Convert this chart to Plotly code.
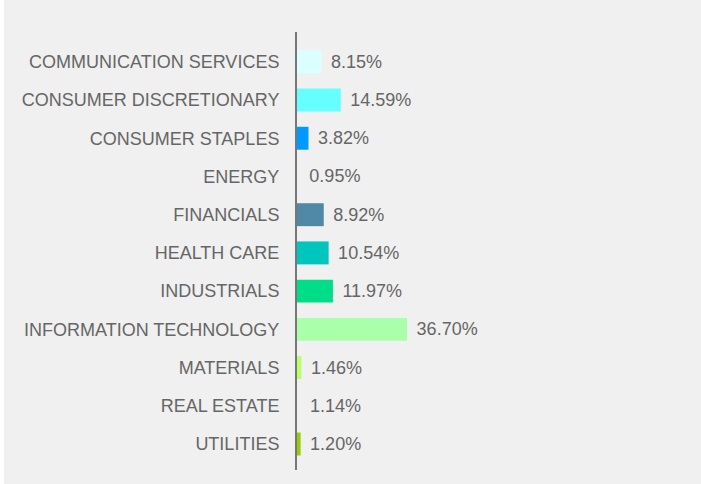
import plotly.graph_objects as go

sectors = ["COMMUNICATION SERVICES", "CONSUMER DISCRETIONARY", "CONSUMER STAPLES", "ENERGY",
           "FINANCIALS", "HEALTH CARE", "INDUSTRIALS", "INFORMATION TECHNOLOGY",
           "MATERIALS", "REAL ESTATE", "UTILITIES"]
weights = [8.15, 14.59, 3.82, 0.95, 8.92, 10.54, 11.97, 36.70, 1.46, 1.14, 1.20]
colors = ["#dcffff", "#66ffff", "#0099ff", "#f0f0f0", "#4f89a6", "#00c4be", "#00dd88",
          "#aaffaa", "#bbff66", "#f0f0f0", "#99cc00"]

W, H = 701, 484
L, R, T, B = 297, 6, 32, 14
pxper = 3.0
xmax = (W - L - R) / pxper

fig = go.Figure(go.Bar(
    x=weights, y=sectors, orientation="h",
    marker=dict(color=colors, line=dict(width=0)),
    texttemplate=" \u200a%{x:.2f}%", textposition="outside",
    textfont=dict(family="Liberation Sans, Arial, sans-serif", size=18, color="#666666"),
    cliponaxis=False, hoverinfo="skip",
))

fig.update_layout(
    width=W, height=H,
    margin=dict(l=L, r=R, t=T, b=B),
    paper_bgcolor="#f0f0f0", plot_bgcolor="#f0f0f0",
    bargap=0.4, showlegend=False,
    font=dict(family="Liberation Sans, Arial, sans-serif", size=18, color="#666666"),
    xaxis=dict(range=[0, xmax], visible=False, fixedrange=True),
    yaxis=dict(range=[10.68, -0.78], showline=True, linecolor="#777777", linewidth=2,
               ticks="outside", ticklen=12, tickcolor="rgba(0,0,0,0)",
               showgrid=False, zeroline=False, fixedrange=True,
               tickfont=dict(size=18, color="#666666")),
    shapes=[dict(type="rect", xref="paper", yref="paper",
                 x0=-L / (W - L - R), x1=-(L - 4) / (W - L - R), y0=-B / (H - T - B), y1=1 + T / (H - T - B),
                 fillcolor="#ffffff", line=dict(width=0), layer="below")],
)

fig.write_html("out.html", config={"displayModeBar": False},
               post_script="document.body.style.margin='0';document.body.style.padding='0';")
